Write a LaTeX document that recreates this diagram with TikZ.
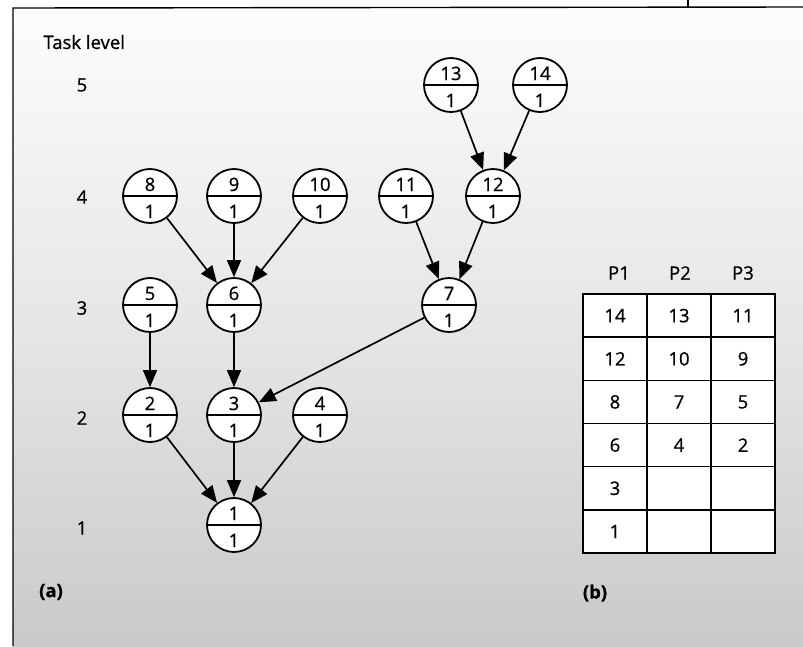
\documentclass[tikz,border=0pt]{standalone}
\usepackage{fontspec}
\setmainfont{Open Sans}[FakeBold=0.7]
\usetikzlibrary{arrows.meta}
% upper field: task number, lower field: task weight
\newcommand\taskfields[2]{\smash{\makebox[0pt]{\raisebox{5pt}{#1}}\makebox[0pt]{\raisebox{-22pt}{#2}}}}

\begin{document}
\begin{tikzpicture}[x=1pt,y=-1pt,
  every node/.style={font=\fontsize{18.5}{21}\selectfont},
  task/.style={circle, draw, line width=1.8pt, fill=white, minimum size=54pt, inner sep=0pt,
    path picture={\draw[line width=1.8pt] (path picture bounding box.west) -- (path picture bounding box.east);}},
  dep/.style={line width=1.7pt, -{Triangle[length=17pt,width=14pt]}},
  cell/.style={draw, line width=1.6pt, fill=white, minimum width=64pt, minimum height=43.2pt, inner sep=0pt},
  frame/.style={line width=1.4pt},
  tag/.style={font=\fontsize{18.5}{21}\selectfont\bfseries}]

\useasboundingbox (0,0) rectangle (803,646);

% paper background with darkening towards the bottom
\shade[top color=gray!2, bottom color=gray!20] (13,8) rectangle (803,330);
\shade[top color=gray!20, bottom color=gray!42] (13,330) rectangle (803,646);

% frame
\draw[frame] (13,646) -- (13,8) -- (803,7);
\draw[frame] (688,0) -- (688,7.5);

% level axis
\node[anchor=west] (title) at (40,42) {Task level};
\node (l5) at (82,85) {5};
\node (l4) at (82,197) {4};
\node (l3) at (82,308) {3};
\node (l2) at (82,418) {2};
\node (l1) at (82,528) {1};

% task graph
\node[task] (t13) at (451,85) {\taskfields{13}{1}};
\node[task] (t14) at (540,85) {\taskfields{14}{1}};

\node[task] (t8)  at (150,196) {\taskfields{8}{1}};
\node[task] (t9)  at (234,196) {\taskfields{9}{1}};
\node[task] (t10) at (320,196) {\taskfields{10}{1}};
\node[task] (t11) at (406,196) {\taskfields{11}{1}};
\node[task] (t12) at (493,196) {\taskfields{12}{1}};

\node[task] (t5) at (150,305) {\taskfields{5}{1}};
\node[task] (t6) at (234,305) {\taskfields{6}{1}};
\node[task] (t7) at (449,305) {\taskfields{7}{1}};

\node[task] (t2) at (150,415) {\taskfields{2}{1}};
\node[task] (t3) at (234,415) {\taskfields{3}{1}};
\node[task] (t4) at (320,415) {\taskfields{4}{1}};

\node[task] (t1) at (234,525) {\taskfields{1}{1}};

\draw[dep] (t13) -- (t12);
\draw[dep] (t14) -- (t12);
\draw[dep] (t8) -- (t6);
\draw[dep] (t9) -- (t6);
\draw[dep] (t10) -- (t6);
\draw[dep] (t11) -- (t7);
\draw[dep] (t12) -- (t7);
\draw[dep] (t5) -- (t2);
\draw[dep] (t6) -- (t3);
\draw[dep] (t7) -- (t3);
\draw[dep] (t2) -- (t1);
\draw[dep] (t3) -- (t1);
\draw[dep] (t4) -- (t1);

\node[tag] (a) at (51,592) {(a)};

% schedule on three processors
\node (p1) at (619,273) {P1};
\node (p2) at (680,273) {P2};
\node (p3) at (743,273) {P3};

\foreach \r/\ca/\cb/\cc in {0/14/13/11, 1/12/10/9, 2/8/7/5, 3/6/4/2, 4/3//, 5/1//} {
  \node[cell] (c\r a) at (615, 294+43.17*\r+21.6) {\ca};
  \node[cell] (c\r b) at (679, 294+43.17*\r+21.6) {\cb};
  \node[cell] (c\r c) at (743, 294+43.17*\r+21.6) {\cc};
}

\node[tag] (b) at (595,593) {(b)};
\end{tikzpicture}
\end{document}
